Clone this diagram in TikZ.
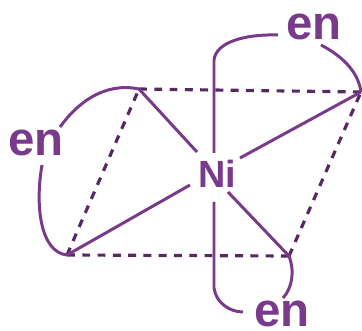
\documentclass[tikz,border=0pt]{standalone}
\usepackage{fontspec}
\setmainfont{Liberation Sans}
\usepackage{xcolor}
\definecolor{enpurple}{HTML}{7A3A8C}
\tikzset{
  ligand/.style={font=\bfseries\fontsize{27}{27}\selectfont, text=enpurple, inner sep=0pt},
  metal/.style={font=\bfseries\fontsize{21.5}{21.5}\selectfont, text=enpurple, inner sep=0pt},
  bond/.style={enpurple, line width=1.7pt},
  edge/.style={enpurple!70!black, line width=1.8pt, dash pattern=on 4.5pt off 4.2pt}
}
\begin{document}
\begin{tikzpicture}[x=0.02cm,y=-0.02cm]

\useasboundingbox (0,0) rectangle (362,331);

\coordinate (tl) at (139,89);
\coordinate (tr) at (361,92);
\coordinate (bl) at (67,255);
\coordinate (br) at (289,256);

\node[metal] (ni) at (217,174) {Ni};
\node[ligand] (enleft) at (36,143) {en};
\node[ligand] (entop) at (314,27) {en};
\node[ligand] (enbottom) at (282,314) {en};

\coordinate (topstem) at (214,153);
\coordinate (lowstem) at (214,202);
\coordinate (topend) at (278,35);
\coordinate (lowend) at (243,312);
\coordinate (tlbond) at (197,152);
\coordinate (trbond) at (240,158);
\coordinate (blbond) at (190,185);
\coordinate (brbond) at (228,192);

\draw[edge] (tl) -- (tr);
\draw[edge] (bl) -- (br);
\draw[edge] (bl) -- (tl);
\draw[edge] (br) -- (tr);

\draw[bond] (tlbond) -- (tl);
\draw[bond] (trbond) -- (tr);
\draw[bond] (blbond) -- (bl);
\draw[bond] (brbond) -- (br);

\draw[bond] (topstem) -- (214,60) .. controls (216,42) and (245,34) .. (topend);
\draw[bond] (lowstem) -- (214,288) .. controls (216,303) and (230,312) .. (lowend);

\draw[bond] (60,127) .. controls (78,102) and (105,82) .. (tl);
\draw[bond] (42,165) .. controls (35,205) and (40,252) .. (bl);
\draw[bond] (321,45) .. controls (340,55) and (358,70) .. (tr);
\draw[bond] (br) .. controls (295,272) and (292,288) .. (283,298);

\end{tikzpicture}
\end{document}
